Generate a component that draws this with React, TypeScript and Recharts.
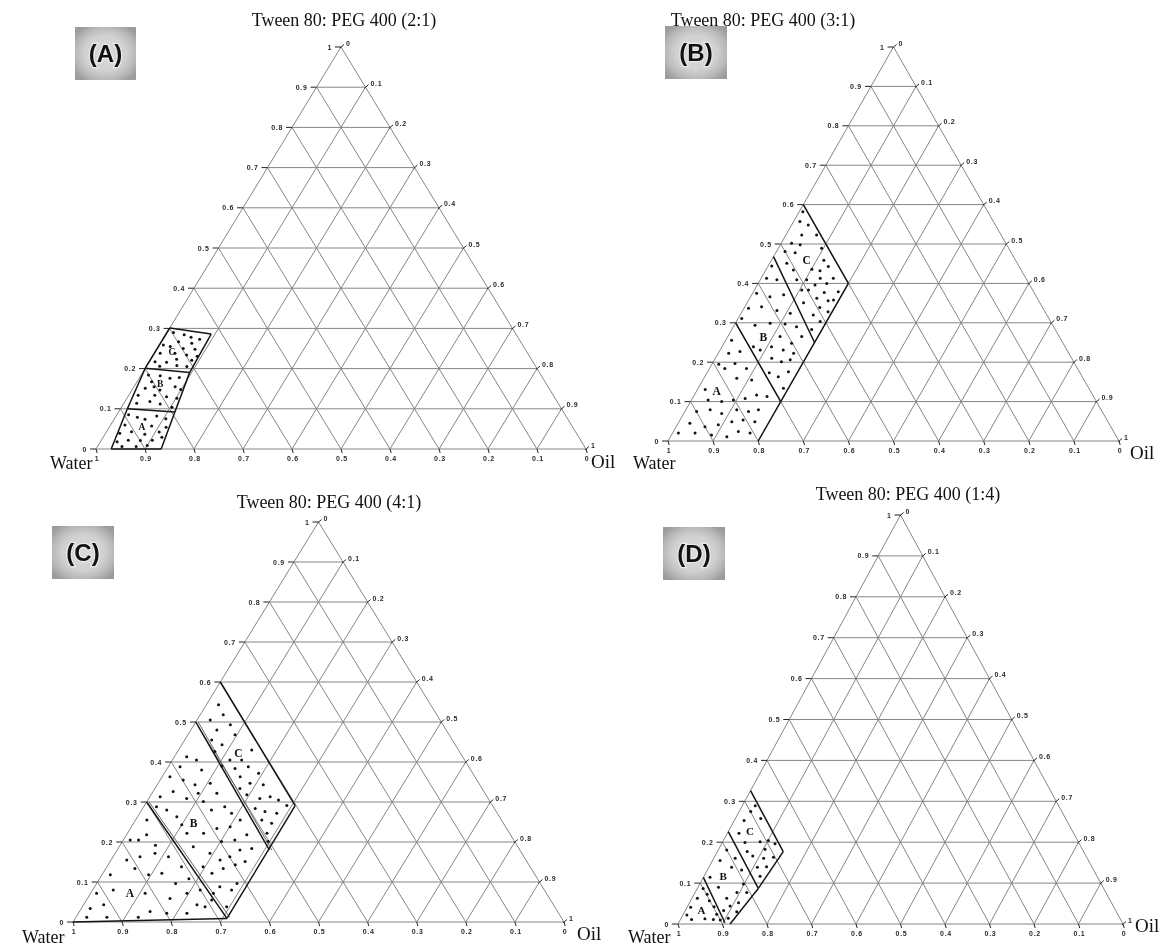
import React from 'react';
import { ScatterChart, Scatter, XAxis, YAxis, ReferenceLine } from 'recharts';

// A composition point: [oil fraction, Smix (Tween 80 + PEG 400) fraction]; water = 1 - oil - smix
type Mix = [number, number];

const FRACTIONS = [0, 0.1, 0.2, 0.3, 0.4, 0.5, 0.6, 0.7, 0.8, 0.9, 1];
const FRACTION_LABELS = ['0', '0.1', '0.2', '0.3', '0.4', '0.5', '0.6', '0.7', '0.8', '0.9', '1'];
const GRID_STEPS = [0.1, 0.2, 0.3, 0.4, 0.5, 0.6, 0.7, 0.8, 0.9];
const REGION_NAMES = ['A', 'B', 'C'];

// ---- (A) Tween 80 : PEG 400 = 2:1 ----
const A_LINES: Mix[][] = [
  [[0.031, 0], [0.014, 0.1], [0, 0.201], [0, 0.301], [0.092, 0.286], [0.096, 0.19], [0.115, 0.092], [0.133, 0], [0.031, 0]],
  [[0.014, 0.1], [0.115, 0.092]],
  [[0, 0.201], [0.096, 0.19]],
];
const A_REGION_AT: Mix[] = [[0.066, 0.056], [0.05, 0.162], [0.034, 0.242]];
const A_DOTS: Mix[] = [
  [0.013, 0.29], [0.038, 0.284], [0.055, 0.278], [0.075, 0.273], [0.035, 0.267], [0.064, 0.263], [0.008, 0.259],
  [0.024, 0.255], [0.053, 0.25], [0.078, 0.248], [0.012, 0.238], [0.042, 0.238], [0.068, 0.234], [0.053, 0.223],
  [0.012, 0.217], [0.036, 0.216], [0.085, 0.221], [0.027, 0.206], [0.061, 0.208], [0.083, 0.205], [0.091, 0.231],
  [0.015, 0.184], [0.04, 0.182], [0.063, 0.176], [0.081, 0.178], [0.03, 0.167], [0.025, 0.151], [0.084, 0.155],
  [0.057, 0.147], [0.019, 0.134], [0.053, 0.134], [0.079, 0.13], [0.102, 0.126], [0.026, 0.114], [0.051, 0.118],
  [0.075, 0.112], [0.103, 0.104], [0.099, 0.148], [0.041, 0.155],
  [0.024, 0.085], [0.045, 0.079], [0.063, 0.074], [0.083, 0.082], [0.105, 0.075], [0.029, 0.06], [0.085, 0.057],
  [0.116, 0.054], [0.029, 0.039], [0.051, 0.043], [0.081, 0.037], [0.108, 0.042], [0.034, 0.018], [0.055, 0.022],
  [0.08, 0.021], [0.104, 0.022], [0.12, 0.029], [0.05, 0.006], [0.079, 0.006], [0.1, 0.009],
];

// ---- (B) Tween 80 : PEG 400 = 3:1 ----
const B_LINES: Mix[][] = [
  [[0, 0.6], [0.2, 0.4], [0.2, 0]],
  [[0, 0.468], [0.2, 0.25]],
  [[0, 0.3], [0.2, 0.1]],
];
const B_REGION_AT: Mix[] = [[0.044, 0.128], [0.079, 0.265], [0.078, 0.459]];
const B_DOTS: Mix[] = [
  [0.008, 0.582], [0.014, 0.557], [0.037, 0.548], [0.068, 0.523], [0.035, 0.523], [0.023, 0.502], [0.044, 0.498],
  [0.096, 0.489], [0.019, 0.481], [0.043, 0.478], [0.116, 0.459], [0.101, 0.436], [0.121, 0.432], [0.134, 0.443],
  [0.16, 0.413], [0.131, 0.413], [0.103, 0.409], [0.152, 0.4], [0.128, 0.396], [0.188, 0.379], [0.158, 0.377],
  [0.12, 0.383], [0.149, 0.362], [0.177, 0.356], [0.125, 0.351], [0.188, 0.358], [0.167, 0.339], [0.191, 0.328],
  [0.162, 0.32], [0.186, 0.303], [0.177, 0.283], [0.061, 0.434], [0.038, 0.451], [0.081, 0.409], [0.105, 0.383],
  [0.008, 0.444], [0.012, 0.413], [0.037, 0.409], [0.009, 0.375], [0.043, 0.366], [0.071, 0.371], [0.01, 0.337],
  [0.037, 0.341], [0.076, 0.331], [0.109, 0.324], [0.008, 0.311], [0.046, 0.294], [0.077, 0.299], [0.111, 0.297],
  [0.14, 0.29], [0.164, 0.265], [0.116, 0.265], [0.15, 0.248], [0.11, 0.239], [0.14, 0.231], [0.167, 0.223],
  [0.089, 0.231], [0.125, 0.21], [0.151, 0.201], [0.168, 0.206], [0.07, 0.239], [0.138, 0.173], [0.163, 0.163],
  [0.179, 0.176], [0.189, 0.134],
  [0.013, 0.256], [0.023, 0.223], [0.046, 0.227], [0.05, 0.197], [0.034, 0.184], [0.082, 0.184], [0.073, 0.159],
  [0.108, 0.155], [0.017, 0.131], [0.037, 0.104], [0.069, 0.1], [0.093, 0.104], [0.117, 0.108], [0.138, 0.117],
  [0.163, 0.113], [0.026, 0.075], [0.054, 0.079], [0.084, 0.07], [0.113, 0.079], [0.141, 0.075], [0.161, 0.079],
  [0.026, 0.045], [0.064, 0.036], [0.091, 0.041], [0.117, 0.049], [0.14, 0.053], [0.168, 0.049], [0.013, 0.02],
  [0.05, 0.02], [0.089, 0.015], [0.125, 0.011], [0.144, 0.024], [0.172, 0.02], [0.015, 0.195],
];

// ---- (C) Tween 80 : PEG 400 = 4:1 ----
const C_LINES: Mix[][] = [
  [[0, 0.6], [0.307, 0.291], [0.309, 0.009], [0, 0]],
  [[0, 0.5], [0.31, 0.18]],
  [[0, 0.3], [0.309, 0.009]],
];
const C_SHADOW_LINES: Mix[][] = [
  [[0.005, 0.5], [0.315, 0.18]],
  [[0.005, 0.3], [0.313, 0.012]],
];
const C_REGION_AT: Mix[] = [[0.08, 0.072], [0.122, 0.247], [0.126, 0.422]];
const C_DOTS: Mix[] = [
  [0.025, 0.543], [0.047, 0.518], [0.027, 0.505], [0.074, 0.493], [0.053, 0.48], [0.096, 0.468], [0.055, 0.455],
  [0.082, 0.443], [0.076, 0.426], [0.149, 0.43], [0.117, 0.405], [0.141, 0.405], [0.108, 0.39], [0.138, 0.384],
  [0.163, 0.388], [0.192, 0.372], [0.159, 0.363], [0.187, 0.347], [0.216, 0.343], [0.245, 0.313], [0.266, 0.305],
  [0.29, 0.291], [0.195, 0.318], [0.226, 0.309], [0.229, 0.284], [0.253, 0.276], [0.279, 0.272], [0.281, 0.247],
  [0.257, 0.255], [0.284, 0.222], [0.297, 0.201], [0.173, 0.334],
  [0.025, 0.413], [0.049, 0.405], [0.024, 0.388], [0.072, 0.38], [0.016, 0.363], [0.047, 0.355], [0.077, 0.343],
  [0.106, 0.347], [0.021, 0.313], [0.041, 0.326], [0.077, 0.309], [0.094, 0.322], [0.132, 0.322], [0.115, 0.301],
  [0.165, 0.288], [0.142, 0.28], [0.08, 0.263], [0.051, 0.28], [0.187, 0.272], [0.213, 0.255], [0.155, 0.222],
  [0.176, 0.234], [0.201, 0.238], [0.121, 0.222], [0.202, 0.201], [0.227, 0.205], [0.245, 0.218], [0.151, 0.188],
  [0.193, 0.172], [0.222, 0.155], [0.238, 0.163], [0.25, 0.18], [0.272, 0.184], [0.196, 0.138], [0.222, 0.122],
  [0.239, 0.134], [0.259, 0.143], [0.275, 0.151], [0.255, 0.088], [0.283, 0.08], [0.25, 0.072], [0.286, 0.096],
  [0.294, 0.038], [0.1, 0.243], [0.026, 0.288],
  [0.023, 0.255], [0.031, 0.205], [0.041, 0.218], [0.072, 0.192], [0.032, 0.155], [0.055, 0.163], [0.081, 0.172],
  [0.113, 0.163], [0.017, 0.118], [0.059, 0.134], [0.095, 0.118], [0.12, 0.122], [0.152, 0.138], [0.161, 0.096],
  [0.182, 0.108], [0.012, 0.072], [0.042, 0.08], [0.111, 0.072], [0.168, 0.059], [0.196, 0.072], [0.219, 0.08],
  [0.25, 0.038], [0.255, 0.055], [0.018, 0.034], [0.041, 0.043], [0.063, 0.012], [0.022, 0.012], [0.127, 0.012],
  [0.144, 0.026], [0.18, 0.022], [0.221, 0.022], [0.014, 0.205], [0.231, 0.043],
];

// ---- (D) Tween 80 : PEG 400 = 1:4 ----
const D_LINES: Mix[][] = [
  [[0, 0.326], [0.148, 0.177], [0.137, 0.087], [0.117, 0]],
  [[0, 0.226], [0.137, 0.087]],
  [[0, 0.114], [0.104, 0.003]],
];
const D_REGION_AT: Mix[] = [[0.036, 0.034], [0.043, 0.117], [0.048, 0.227]];
const D_DOTS: Mix[] = [
  [0.029, 0.289], [0.022, 0.253], [0.057, 0.258], [0.026, 0.222], [0.101, 0.204], [0.12, 0.196], [0.084, 0.201],
  [0.051, 0.199], [0.104, 0.183], [0.085, 0.166], [0.112, 0.161], [0.133, 0.163], [0.067, 0.177], [0.109, 0.139],
  [0.129, 0.14], [0.126, 0.117], [0.026, 0.275],
  [0.019, 0.181], [0.048, 0.161], [0.017, 0.155], [0.051, 0.139], [0.077, 0.132], [0.015, 0.114], [0.046, 0.09],
  [0.098, 0.098], [0.094, 0.077], [0.116, 0.077], [0.078, 0.063], [0.11, 0.052], [0.095, 0.044], [0.086, 0.033],
  [0.117, 0.03], [0.106, 0.014],
  [0.013, 0.087], [0.029, 0.073], [0.012, 0.063], [0.042, 0.057], [0.06, 0.042], [0.008, 0.041], [0.009, 0.022],
  [0.075, 0.024], [0.025, 0.011], [0.054, 0.013], [0.074, 0.011], [0.09, 0.01],
];

// ---- page layout ----
const PAGE_W = 1169;
const PAGE_H = 949;

type Panel = {
  id: string;
  title: string;
  tag: string;
  frame: { left: number; right: number; top: number; base: number };
  titleAt: [number, number];
  tagBox: [number, number, number, number];
  waterAt: [number, number];
  oilAt: [number, number];
  regionFont: number;
  lines: Mix[][];
  shadowLines: Mix[][];
  regionAt: Mix[];
  dots: Mix[];
};

const PANELS: Panel[] = [
  {
    id: 'A', title: 'Tween 80: PEG 400 (2:1)', tag: '(A)',
    frame: { left: 96, right: 586, top: 47, base: 449 },
    titleAt: [344, 26], tagBox: [75, 27, 61, 53], waterAt: [50, 469], oilAt: [591, 468], regionFont: 9.5,
    lines: A_LINES, shadowLines: [], regionAt: A_REGION_AT, dots: A_DOTS,
  },
  {
    id: 'B', title: 'Tween 80: PEG 400 (3:1)', tag: '(B)',
    frame: { left: 668, right: 1119, top: 47, base: 441 },
    titleAt: [763, 26], tagBox: [665, 26, 62, 53], waterAt: [633, 469], oilAt: [1130, 459], regionFont: 11.5,
    lines: B_LINES, shadowLines: [], regionAt: B_REGION_AT, dots: B_DOTS,
  },
  {
    id: 'C', title: 'Tween 80: PEG 400 (4:1)', tag: '(C)',
    frame: { left: 73, right: 564, top: 522, base: 922 },
    titleAt: [329, 508], tagBox: [52, 526, 62, 53], waterAt: [22, 943], oilAt: [577, 940], regionFont: 11.5,
    lines: C_LINES, shadowLines: C_SHADOW_LINES, regionAt: C_REGION_AT, dots: C_DOTS,
  },
  {
    id: 'D', title: 'Tween 80: PEG 400 (1:4)', tag: '(D)',
    frame: { left: 678, right: 1123, top: 515, base: 924 },
    titleAt: [908, 500], tagBox: [663, 527, 62, 53], waterAt: [628, 943], oilAt: [1135, 932], regionFont: 11,
    lines: D_LINES, shadowLines: [], regionAt: D_REGION_AT, dots: D_DOTS,
  },
];

// ternary composition -> position in the triangle plane (x along the base, y = smix height)
const toPoint = ([oil, smix]: Mix) => ({ x: oil + smix / 2, y: smix });

const GRID_COLOR = '#858585';
const TICK_FONT = 'Liberation Sans, Arial, sans-serif';
const SERIF = 'Liberation Serif, Times New Roman, serif';

const tickTextProps = {
  fontFamily: TICK_FONT,
  fontSize: 7,
  fontWeight: 700,
  fill: '#2b2b2b',
  letterSpacing: 0.7,
};

const LeftTick = (props: any) => (
  <g>
    <line x1={props.cx - 6} y1={props.cy} x2={props.cx} y2={props.cy} stroke="#222" strokeWidth={1} />
    <text x={props.cx - 9} y={props.cy + 2.5} textAnchor="end" {...tickTextProps}>{props.payload.label}</text>
  </g>
);

const RightTick = (props: any) => (
  <g>
    <line x1={props.cx - 1} y1={props.cy + 1} x2={props.cx + 3} y2={props.cy - 2.5} stroke="#222" strokeWidth={1} />
    <text x={props.cx + 5} y={props.cy - 1.5} textAnchor="start" {...tickTextProps}>{props.payload.label}</text>
  </g>
);

const BottomTick = (props: any) => (
  <g>
    <line x1={props.cx} y1={props.cy} x2={props.cx + 1.2} y2={props.cy + 4} stroke="#222" strokeWidth={1} />
    <text x={props.cx + 1} y={props.cy + 12} textAnchor="middle" {...tickTextProps}>{props.payload.label}</text>
  </g>
);

const Dot = (props: any) => <circle cx={props.cx} cy={props.cy} r={1.5} fill="#111" />;

function TernaryPanel({ panel }: { panel: Panel }) {
  const { frame } = panel;
  const margin = {
    left: frame.left,
    right: PAGE_W - frame.right,
    top: frame.top,
    bottom: PAGE_H - frame.base,
  };

  // triangle edges and the 0.1 grid in all three directions
  const grid: Mix[][] = [
    [[0, 0], [1, 0]],
    [[0, 0], [0, 1]],
    [[1, 0], [0, 1]],
  ];
  GRID_STEPS.forEach((v) => {
    grid.push([[0, v], [1 - v, v]]);
    grid.push([[v, 0], [v, 1 - v]]);
    grid.push([[v, 0], [0, v]]);
  });

  const toSegments = (lines: Mix[][]) => {
    const segs: Mix[][] = [];
    lines.forEach((line) => {
      for (let i = 0; i < line.length - 1; i++) segs.push([line[i], line[i + 1]]);
    });
    return segs;
  };

  const leftTicks = FRACTIONS.map((v, i) => ({ ...toPoint([0, v]), label: FRACTION_LABELS[i] }));
  const rightTicks = FRACTIONS.map((v, i) => ({ ...toPoint([v, 1 - v]), label: FRACTION_LABELS[i] }));
  const bottomTicks = FRACTIONS.map((v, i) => ({ ...toPoint([1 - v, 0]), label: FRACTION_LABELS[i] }));
  const dots = panel.dots.map(toPoint);
  const regionLabels = panel.regionAt.map((m, i) => ({ ...toPoint(m), label: REGION_NAMES[i] }));

  const RegionLabel = (props: any) => (
    <text
      x={props.cx}
      y={props.cy + panel.regionFont * 0.35}
      textAnchor="middle"
      fontFamily={SERIF}
      fontWeight={700}
      fontSize={panel.regionFont}
      fill="#111"
    >
      {props.payload.label}
    </text>
  );

  return (
    <ScatterChart width={PAGE_W} height={PAGE_H} margin={margin}>
      <XAxis type="number" dataKey="x" domain={[0, 1]} hide />
      <YAxis type="number" dataKey="y" domain={[0, 1]} hide />
      {grid.map((seg, i) => (
        <ReferenceLine
          key={`g${i}`}
          segment={[toPoint(seg[0]), toPoint(seg[1])]}
          stroke={GRID_COLOR}
          strokeWidth={1}
          ifOverflow="visible"
        />
      ))}
      {toSegments(panel.shadowLines).map((seg, i) => (
        <ReferenceLine
          key={`s${i}`}
          segment={[toPoint(seg[0]), toPoint(seg[1])]}
          stroke="#555"
          strokeWidth={0.9}
          ifOverflow="visible"
        />
      ))}
      {toSegments(panel.lines).map((seg, i) => (
        <ReferenceLine
          key={`b${i}`}
          segment={[toPoint(seg[0]), toPoint(seg[1])]}
          stroke="#141414"
          strokeWidth={1.5}
          ifOverflow="visible"
        />
      ))}
      <Scatter data={dots} shape={Dot} isAnimationActive={false} />
      <Scatter data={regionLabels} shape={RegionLabel} isAnimationActive={false} />
      <Scatter data={leftTicks} shape={LeftTick} isAnimationActive={false} />
      <Scatter data={rightTicks} shape={RightTick} isAnimationActive={false} />
      <Scatter data={bottomTicks} shape={BottomTick} isAnimationActive={false} />
    </ScatterChart>
  );
}

function Annotations() {
  return (
    <svg
      width={PAGE_W}
      height={PAGE_H}
      style={{ position: 'absolute', left: 0, top: 0, pointerEvents: 'none' }}
    >
      <defs>
        <radialGradient id="tagFill" cx="50%" cy="50%" r="62%">
          <stop offset="0%" stopColor="#dcdcdc" />
          <stop offset="55%" stopColor="#d0d0d0" />
          <stop offset="80%" stopColor="#b8b8b8" />
          <stop offset="100%" stopColor="#9c9c9c" />
        </radialGradient>
      </defs>
      {PANELS.map((p) => (
        <g key={p.id}>
          <text x={p.titleAt[0]} y={p.titleAt[1]} textAnchor="middle" fontFamily={SERIF} fontSize={18} fill="#111">
            {p.title}
          </text>
          <rect x={p.tagBox[0]} y={p.tagBox[1]} width={p.tagBox[2]} height={p.tagBox[3]} fill="url(#tagFill)" />
          <text
            x={p.tagBox[0] + p.tagBox[2] / 2}
            y={p.tagBox[1] + p.tagBox[3] / 2 + 8.5}
            textAnchor="middle"
            fontFamily={TICK_FONT}
            fontWeight={700}
            fontSize={24}
            fill="#111"
            stroke="#f2f2f2"
            strokeWidth={2.5}
            strokeOpacity={0.7}
            paintOrder="stroke"
          >
            {p.tag}
          </text>
          <text x={p.waterAt[0]} y={p.waterAt[1]} fontFamily={SERIF} fontSize={18} fill="#111">Water</text>
          <text x={p.oilAt[0]} y={p.oilAt[1]} fontFamily={SERIF} fontSize={19} fill="#111">Oil</text>
        </g>
      ))}
    </svg>
  );
}

export default function App() {
  return (
    <div
      style={{
        position: 'absolute',
        left: 0,
        top: 0,
        width: PAGE_W,
        height: PAGE_H,
        background: '#ffffff',
        overflow: 'hidden',
      }}
    >
      {PANELS.map((p) => (
        <div key={p.id} style={{ position: 'absolute', left: 0, top: 0, willChange: 'transform' }}>
          <TernaryPanel panel={p} />
        </div>
      ))}
      <Annotations />
    </div>
  );
}
